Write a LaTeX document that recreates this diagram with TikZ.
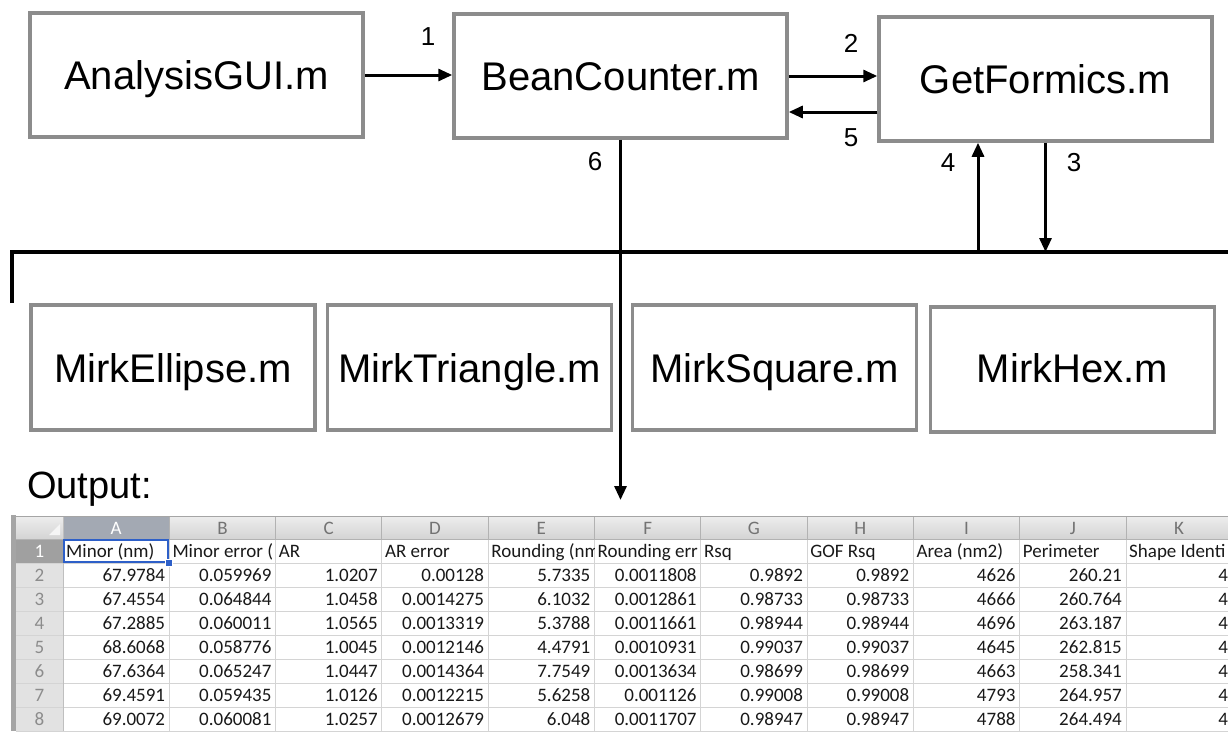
\documentclass[tikz,border=0pt]{standalone}
\usepackage{fontspec}
\setmainfont{Liberation Sans}
\newfontfamily\xlfont{Carlito}
\usetikzlibrary{arrows.meta,calc}
\definecolor{boxgray}{RGB}{140,140,140}
\definecolor{gridc}{RGB}{212,212,212}
\definecolor{hdrtop}{RGB}{236,236,236}
\definecolor{hdrbot}{RGB}{212,212,212}
\definecolor{hdrsel}{RGB}{163,169,179}
\definecolor{rowfill}{RGB}{226,226,226}
\definecolor{rowsel}{RGB}{160,160,160}
\definecolor{hdrtxt}{RGB}{115,115,115}
\definecolor{celltxt}{RGB}{25,25,25}
\definecolor{selblue}{RGB}{45,95,200}
\definecolor{sheetedge}{RGB}{165,165,165}
\begin{document}
\begin{tikzpicture}[x=1pt,y=-1pt,
  box/.style={draw=boxgray,line width=3.5pt,fill=white,inner sep=0pt,text height=33pt,text depth=4pt,font=\fontsize{40}{48}\selectfont},
  topbox/.style={box,minimum width=333pt,minimum height=124pt},
  botbox/.style={box,minimum width=284pt,minimum height=125pt},
  conn/.style={line width=3pt,-{Triangle[length=14pt,width=12pt]}},
  busline/.style={line width=4pt},
  numlbl/.style={inner sep=0pt,font=\fontsize{26}{30}\selectfont},
  cellnum/.style={inner sep=0pt,anchor=base east,font=\xlfont\fontsize{19}{21}\selectfont,text=celltxt},
  celltext/.style={inner sep=0pt,anchor=base west,font=\xlfont\fontsize{19}{21}\selectfont,text=celltxt},
  colhdr/.style={inner sep=0pt,font=\xlfont\fontsize{19}{21}\selectfont,text=hdrtxt},
]
\useasboundingbox (0,0) rectangle (1228,731);
\fill[white] (0,0) rectangle (1228,731);

% ---- top boxes
\node[topbox] (gui)  at (196.5,75)   {AnalysisGUI.m};
\node[topbox] (bean) at (620.5,76)   {BeanCounter.m};
\node[topbox] (get)  at (1045.5,79) {GetFormics.m};

% ---- bottom boxes
\node[botbox] (ell) at (173,367.5)   {MirkEllipse.m};
\node[botbox] (tri) at (469.5,367.5) {MirkTriangle.m};
\node[botbox] (sqr) at (774.5,367.5) {MirkSquare.m};
\node[botbox] (hex) at (1072.5,369.5) {\raisebox{2pt}{MirkHex.m}};

% ---- bus
\coordinate (busL) at (12,303);
\coordinate (busLT) at (12,252);
\coordinate (busR) at (1228,252);
\coordinate (b4) at (978,252);
\coordinate (outtip) at (620.5,500);
\draw[busline] (busL) -- (busLT) -- (busR);

% ---- connectors
\draw[conn] (gui.east) -- (gui.east -| bean.west);
\draw[conn] (bean.east) -- (bean.east -| get.west);
\draw[conn] ([yshift=-36pt]bean.east -| get.west) -- ([yshift=-36pt]bean.east);
\draw[conn] (bean.south) -- (outtip);
\draw[conn] (b4) -- (b4 |- get.south);
\draw[conn] (get.south) -- (get.south |- busR);

% ---- labels
\node[numlbl] (l1) at (428,37)  {1};
\node[numlbl] (l2) at (851,43)  {2};
\node[numlbl] (l5) at (851,138) {5};
\node[numlbl] (l6) at (595,162) {6};
\node[numlbl] (l4) at (948,163) {4};
\node[numlbl] (l3) at (1074,163) {3};

\node[anchor=base west,inner sep=0pt,font=\fontsize{38}{44}\selectfont] (outlbl) at (27,498) {Output:};

% ---- spreadsheet
\begin{scope}
\clip (0,0) rectangle (1228,731);
\fill[sheetedge] (11,515) rectangle (16,731);
\shade[top color=hdrtop,bottom color=hdrbot] (16,517) rectangle (1240,539);
\fill[rowfill] (16,539) rectangle (63,740);
\fill[hdrsel] (63,517) rectangle (169.3,539);
\fill[rowsel] (16,539) rectangle (63,563);
\fill[white] (63,539) rectangle (1240,740);
\fill[white!96!black] (49,535) -- (60,535) -- (60,524) -- cycle;
\draw[sheetedge,line width=1pt] (11,516.5) -- (1240,516.5);
\foreach \i in {0,...,11} {
  \draw[gridc,line width=1pt] ({63+\i*106.3},517) -- ({63+\i*106.3},731);
  \draw[white!70!black,line width=1pt] ({63+\i*106.3},517) -- ({63+\i*106.3},539);
}
\foreach \r in {0,...,8} \draw[gridc,line width=1pt] (16,{539+\r*24}) -- (1240,{539+\r*24});
\draw[white!70!black,line width=1pt] (16,539) -- (1240,539);
\draw[white!75!black,line width=1pt] (63,517) -- (63,731);
% column letters
\foreach \L [count=\c from 0] in {A,B,C,D,E,F,G,H,I,J,K} {
  \ifnum\c=0
    \node[colhdr,text=white] at ({63+\c*106.3+53.15},528) {\L};
  \else
    \node[colhdr] at ({63+\c*106.3+53.15},528) {\L};
  \fi
}
% row numbers
\foreach \r in {1,...,8} {
  \ifnum\r=1
    \node[colhdr,text=white] at (39.5,{539+(\r-1)*24+12}) {\r};
  \else
    \node[colhdr,text=white!55!black] at (39.5,{539+(\r-1)*24+12}) {\r};
  \fi
}
% header texts (cut at the cell edge as in the sheet)
\foreach \t [count=\c from 0] in {Minor (nm),Minor error (,AR,AR error,Rounding (nm,Rounding err,Rsq,GOF Rsq,Area (nm2),Perimeter,Shape Identi} {
  \begin{scope}
    \clip ({63+\c*106.3+1},540) rectangle ({63+(\c+1)*106.3},562);
    \node[celltext] at ({63+\c*106.3+3},557) {\t};
  \end{scope}
}
% data
\foreach \r/\vals in {
 2/{67.9784,0.059969,1.0207,0.00128,5.7335,0.0011808,0.9892,0.9892,4626,260.21,4},
 3/{67.4554,0.064844,1.0458,0.0014275,6.1032,0.0012861,0.98733,0.98733,4666,260.764,4},
 4/{67.2885,0.060011,1.0565,0.0013319,5.3788,0.0011661,0.98944,0.98944,4696,263.187,4},
 5/{68.6068,0.058776,1.0045,0.0012146,4.4791,0.0010931,0.99037,0.99037,4645,262.815,4},
 6/{67.6364,0.065247,1.0447,0.0014364,7.7549,0.0013634,0.98699,0.98699,4663,258.341,4},
 7/{69.4591,0.059435,1.0126,0.0012215,5.6258,0.001126,0.99008,0.99008,4793,264.957,4},
 8/{69.0072,0.060081,1.0257,0.0012679,6.048,0.0011707,0.98947,0.98947,4788,264.494,4}} {
  \foreach \v [count=\c from 0] in \vals {
    \node[cellnum] at ({63+(\c+1)*106.3-4},{539+(\r-1)*24+18}) {\v};
  }
}
% selection
\draw[selblue,line width=2pt] (64,540) rectangle (168.3,562);
\filldraw[fill=selblue,draw=white,line width=1pt] (165,559) rectangle (172,566);
\end{scope}
\end{tikzpicture}
\end{document}
